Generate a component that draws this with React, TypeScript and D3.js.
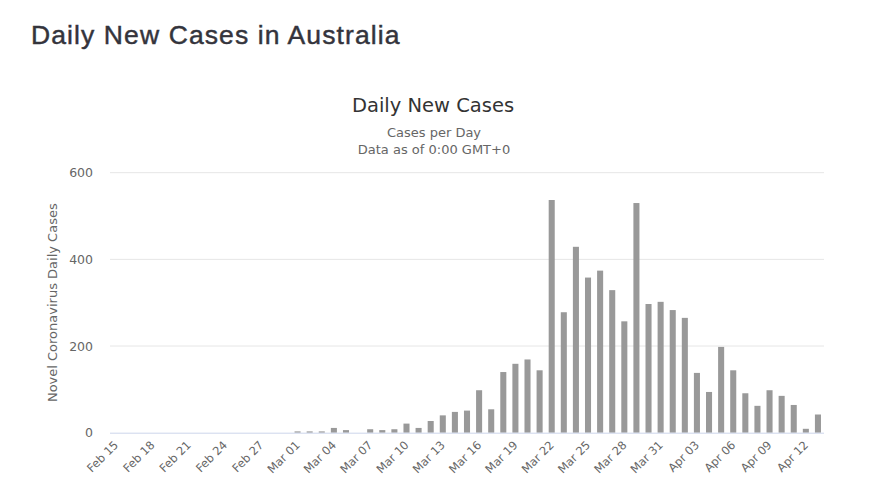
import React, { useRef, useEffect } from 'react';
import * as d3 from 'd3';

// Daily new cases, Feb 15 to Apr 13
const febDates: string[] = ['Feb 15', 'Feb 16', 'Feb 17', 'Feb 18', 'Feb 19', 'Feb 20', 'Feb 21', 'Feb 22', 'Feb 23', 'Feb 24', 'Feb 25', 'Feb 26', 'Feb 27', 'Feb 28', 'Feb 29'];
const marDates: string[] = ['Mar 01', 'Mar 02', 'Mar 03', 'Mar 04', 'Mar 05', 'Mar 06', 'Mar 07', 'Mar 08', 'Mar 09', 'Mar 10', 'Mar 11', 'Mar 12', 'Mar 13', 'Mar 14', 'Mar 15', 'Mar 16', 'Mar 17', 'Mar 18', 'Mar 19', 'Mar 20', 'Mar 21', 'Mar 22', 'Mar 23', 'Mar 24', 'Mar 25', 'Mar 26', 'Mar 27', 'Mar 28', 'Mar 29', 'Mar 30', 'Mar 31'];
const aprDates: string[] = ['Apr 01', 'Apr 02', 'Apr 03', 'Apr 04', 'Apr 05', 'Apr 06', 'Apr 07', 'Apr 08', 'Apr 09', 'Apr 10', 'Apr 11', 'Apr 12', 'Apr 13'];

const febCases: number[] = [0, 0, 0, 0, 0, 0, 0, 0, 0, 0, 0, 0, 0, 0, 0];
const marCases: number[] = [3, 3, 3, 11, 6, 0, 8, 6, 8, 21, 11, 27, 40, 48, 51, 98, 54, 140, 159, 169, 144, 537, 278, 429, 358, 374, 329, 257, 530, 297, 302];
const aprCases: number[] = [283, 265, 138, 94, 198, 144, 91, 62, 98, 85, 64, 9, 42];

const yTicks: number[] = [0, 200, 400, 600];

const dates = [...febDates, ...marDates, ...aprDates];
const cases = [...febCases, ...marCases, ...aprCases];

const FONT = '"DejaVu Sans", "Open Sans", sans-serif';

const App: React.FC = () => {
  const svgRef = useRef<SVGSVGElement | null>(null);

  useEffect(() => {
    if (!svgRef.current) return;
    const width = 890;
    const height = 490;
    const left = 110, right = 824, top = 172.7, bottom = 432.7;

    const x = d3.scaleBand<string>()
      .domain(dates)
      .range([left, right])
      .paddingInner(0.5)
      .paddingOuter(0.25);

    const y = d3.scaleLinear().domain([0, 600]).range([bottom, top]);

    const svg = d3.select(svgRef.current)
      .attr('width', width)
      .attr('height', height);
    svg.selectAll('*').remove();

    svg.append('rect').attr('width', width).attr('height', height).attr('fill', '#fff');

    // page title
    svg.append('text')
      .attr('x', 31).attr('y', 43.5)
      .attr('font-family', '"Liberation Sans", Arial, sans-serif')
      .attr('font-size', 26.5)
      .attr('letter-spacing', 1.1)
      .attr('fill', '#34343c')
      .attr('stroke', '#34343c')
      .attr('stroke-width', 0.45)
      .text('Daily New Cases in Australia');

    // chart titles
    svg.append('text')
      .attr('x', 433).attr('y', 112)
      .attr('text-anchor', 'middle')
      .attr('font-family', FONT)
      .attr('font-size', 19.5)
      .attr('fill', '#333')
      .text('Daily New Cases');

    const sub = svg.append('text')
      .attr('text-anchor', 'middle')
      .attr('font-family', FONT)
      .attr('font-size', 13)
      .attr('fill', '#666');
    sub.append('tspan').attr('x', 434).attr('y', 136.5).text('Cases per Day');
    sub.append('tspan').attr('x', 434).attr('y', 153.5).text('Data as of 0:00 GMT+0');

    // grid lines + y labels
    const yAxis = svg.append('g');
    yAxis.selectAll('line')
      .data(yTicks.filter(d => d > 0))
      .join('line')
      .attr('x1', left).attr('x2', right)
      .attr('y1', d => y(d)).attr('y2', d => y(d))
      .attr('stroke', '#e6e6e6');
    yAxis.selectAll('text')
      .data(yTicks)
      .join('text')
      .attr('x', 93)
      .attr('y', d => y(d) + 4.5)
      .attr('text-anchor', 'end')
      .attr('font-family', FONT)
      .attr('font-size', 12.5)
      .attr('fill', '#666')
      .text(d => String(d));

    svg.append('text')
      .attr('transform', `translate(57,${(top + bottom) / 2}) rotate(-90)`)
      .attr('text-anchor', 'middle')
      .attr('font-family', FONT)
      .attr('font-size', 13)
      .attr('fill', '#666')
      .text('Novel Coronavirus Daily Cases');

    // bars
    svg.append('g')
      .selectAll('rect')
      .data(dates)
      .join('rect')
      .attr('x', d => x(d) as number)
      .attr('width', x.bandwidth())
      .attr('y', (d, i) => y(cases[i]))
      .attr('height', (d, i) => y(0) - y(cases[i]))
      .attr('fill', '#999999');

    // x axis line
    svg.append('line')
      .attr('x1', left).attr('x2', right)
      .attr('y1', bottom + 0.5).attr('y2', bottom + 0.5)
      .attr('stroke', '#ccd6eb');

    // x labels, every third day
    svg.append('g')
      .selectAll('text')
      .data(dates.filter((d, i) => i % 3 === 0))
      .join('text')
      .attr('transform', d => `translate(${(x(d) as number) + x.bandwidth() / 2 + 3},${bottom + 13}) rotate(-45)`)
      .attr('text-anchor', 'end')
      .attr('font-family', FONT)
      .attr('font-size', 11.5)
      .attr('fill', '#666')
      .text(d => d);
  }, []);

  return <svg ref={svgRef} style={{ position: 'absolute', left: 0, top: 0, display: 'block' }}></svg>;
};

export default App;
